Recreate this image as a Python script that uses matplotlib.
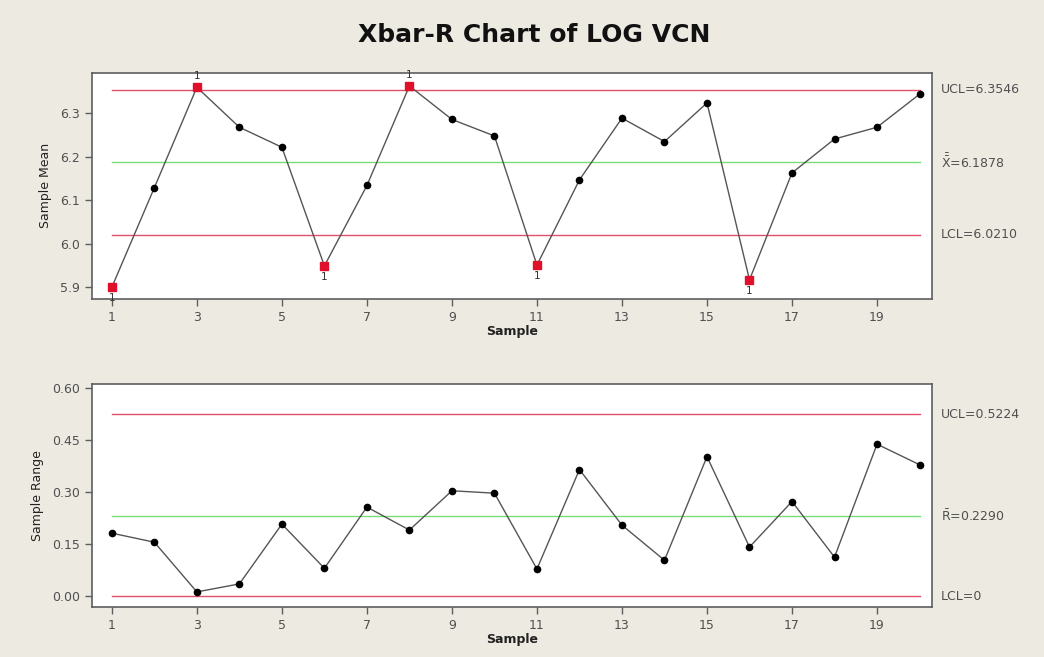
#!/usr/bin/env python3
"""Xbar-R chart of LOG VCN, Minitab style."""

import matplotlib
matplotlib.use('Agg')
import matplotlib.pyplot as plt
import numpy as np

# ============================================================
# DATA
# ============================================================

samples = list(range(1, 21))
sample_means = [5.900, 6.129, 6.360, 6.268, 6.222, 5.949, 6.134, 6.363, 6.286, 6.248,
                5.951, 6.147, 6.289, 6.235, 6.324, 5.917, 6.163, 6.241, 6.268, 6.344]
sample_ranges = [0.181, 0.155, 0.012, 0.035, 0.207, 0.080, 0.256, 0.190, 0.303, 0.296,
                 0.078, 0.364, 0.204, 0.103, 0.401, 0.141, 0.272, 0.112, 0.437, 0.378]

xbar_limits = {'UCL': 6.3546, 'CL': 6.1878, 'LCL': 6.0210}
r_limits = {'UCL': 0.5224, 'CL': 0.2290, 'LCL': 0.0}

# samples flagged by test 1 (beyond limits), label above or below
flagged_mean = {1: 'below', 3: 'above', 6: 'below', 8: 'above', 11: 'below', 16: 'below'}

xticks = [1, 3, 5, 7, 9, 11, 13, 15, 17, 19]
mean_yticks = [5.9, 6.0, 6.1, 6.2, 6.3]
mean_ticklabels = ['5.9', '6.0', '6.1', '6.2', '6.3']
range_yticks = [0.0, 0.15, 0.30, 0.45, 0.60]
range_ticklabels = ['0.00', '0.15', '0.30', '0.45', '0.60']

# ============================================================
# STYLE
# ============================================================

BG = '#EDEAE2'
RED = '#E0506A'
GREEN = '#78DC78'
LINE = '#555555'
TEXT = '#505050'

plt.rcParams['font.family'] = ['DejaVu Sans']


def style_axes(ax):
    ax.set_facecolor('white')
    for spine in ax.spines.values():
        spine.set_color('#5E5E5E')
        spine.set_linewidth(1.2)
    ax.tick_params(axis='both', colors='#5E5E5E', labelcolor=TEXT, labelsize=9,
                   length=5, width=1)
    ax.set_xticks(xticks)
    ax.set_xticklabels([str(t) for t in xticks])
    ax.set_xlim(0.53, 20.3)
    ax.set_xlabel('Sample', fontsize=9, fontweight='bold', color='#222222',
                  labelpad=1)


def draw_limits(ax, limits):
    ax.plot([samples[0], samples[-1]], [limits['UCL']] * 2, color=RED, lw=1.0, zorder=1)
    ax.plot([samples[0], samples[-1]], [limits['LCL']] * 2, color=RED, lw=1.0, zorder=1)
    ax.plot([samples[0], samples[-1]], [limits['CL']] * 2, color=GREEN, lw=1.0, zorder=1)


fig = plt.figure(figsize=(10.44, 6.57), dpi=100)
fig.patch.set_facecolor(BG)

fig.text(0.512, 0.947, 'Xbar-R Chart of LOG VCN', ha='center', va='center',
         fontsize=18, fontweight='bold', color='#111111')

# ============================================================
# XBAR CHART
# ============================================================

ax1 = fig.add_axes([0.088, 0.545, 0.805, 0.344])
style_axes(ax1)
draw_limits(ax1, xbar_limits)
ax1.plot(samples, sample_means, color=LINE, lw=1.0, zorder=2)
normal = [i for i in samples if i not in flagged_mean]
ax1.plot(normal, [sample_means[i - 1] for i in normal], 'o', color='black',
         ms=4.5, zorder=3)
ax1.plot(list(flagged_mean), [sample_means[i - 1] for i in flagged_mean], 's',
         color='#E0102A', ms=5.5, zorder=3)
for i, pos in flagged_mean.items():
    off = 8 if pos == 'above' else -8
    ax1.annotate('1', (i, sample_means[i - 1]), xytext=(0, off),
                 textcoords='offset points', ha='center', va='center',
                 fontsize=7.5, color='#333333', annotation_clip=False)
ax1.set_ylim(5.873, 6.393)
ax1.set_yticks(mean_yticks)
ax1.set_yticklabels(mean_ticklabels)
ax1.set_ylabel('Sample Mean', fontsize=9, color='#222222', labelpad=6)

ax1.text(20.5, xbar_limits['UCL'], 'UCL=6.3546', fontsize=9, color=TEXT,
         va='center', clip_on=False)
ax1.text(20.5, xbar_limits['CL'], r'$\bar{\bar{\mathrm{X}}}$=6.1878', fontsize=9,
         color=TEXT, va='center', clip_on=False)
ax1.text(20.5, xbar_limits['LCL'], 'LCL=6.0210', fontsize=9, color=TEXT,
         va='center', clip_on=False)

# ============================================================
# R CHART
# ============================================================

ax2 = fig.add_axes([0.088, 0.076, 0.805, 0.340])
style_axes(ax2)
draw_limits(ax2, r_limits)
ax2.plot(samples, sample_ranges, color=LINE, lw=1.0, marker='o', mfc='black',
         mec='black', ms=4.5, zorder=2)
ax2.set_ylim(-0.0316, 0.611)
ax2.set_yticks(range_yticks)
ax2.set_yticklabels(range_ticklabels)
ax2.set_ylabel('Sample Range', fontsize=9, color='#222222', labelpad=6)

ax2.text(20.5, r_limits['UCL'], 'UCL=0.5224', fontsize=9, color=TEXT,
         va='center', clip_on=False)
ax2.text(20.5, r_limits['CL'], r'$\bar{\mathrm{R}}$=0.2290', fontsize=9,
         color=TEXT, va='center', clip_on=False)
ax2.text(20.5, r_limits['LCL'], 'LCL=0', fontsize=9, color=TEXT,
         va='center', clip_on=False)

fig.savefig('out.png', dpi=100, facecolor=BG)
